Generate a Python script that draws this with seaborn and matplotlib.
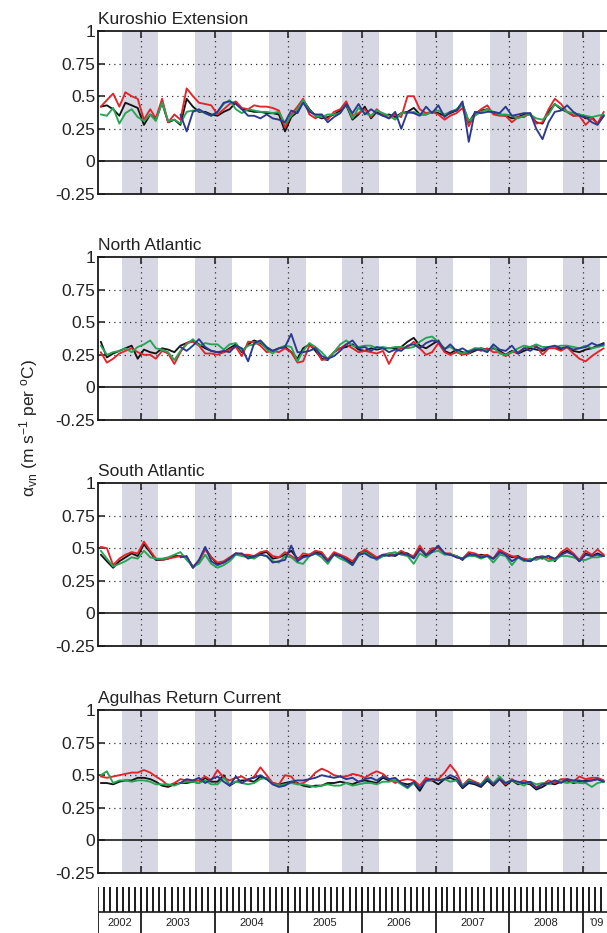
import numpy as np
import pandas as pd
import matplotlib
matplotlib.use("Agg")
import matplotlib.pyplot as plt
import seaborn as sns

# ---------------- data ----------------
regions = ["Kuroshio Extension", "North Atlantic", "South Atlantic", "Agulhas Return Current"]
series_names = ["black", "red", "green", "blue"]
series_colors = ["#141414", "#e3242b", "#27a454", "#2b3990"]
start_main = "2002-06-01"
start_blue = "2003-07-01"
year_labels = ["2002", "2003", "2004", "2005", "2006", "2007", "2008", "'09"]
ytick_labels = ["-0.25", "0", "0.25", "0.5", "0.75", "1"]
ytick_values = [-0.25, 0, 0.25, 0.5, 0.75, 1]

ke_black = [0.42, 0.43, 0.40, 0.35, 0.45, 0.43, 0.41, 0.28, 0.36, 0.32,
            0.45, 0.30, 0.32, 0.28, 0.48, 0.42, 0.38, 0.38, 0.36, 0.35,
            0.38, 0.40, 0.45, 0.40, 0.39, 0.38, 0.38, 0.37, 0.37, 0.36,
            0.23, 0.34, 0.38, 0.47, 0.40, 0.35, 0.33, 0.34, 0.36, 0.39,
            0.43, 0.32, 0.36, 0.42, 0.33, 0.38, 0.35, 0.36, 0.34, 0.37,
            0.38, 0.41, 0.36, 0.36, 0.38, 0.37, 0.35, 0.37, 0.39, 0.44,
            0.30, 0.37, 0.39, 0.40, 0.37, 0.36, 0.35, 0.33, 0.34, 0.36,
            0.36, 0.30, 0.29, 0.38, 0.44, 0.40, 0.38, 0.35, 0.36, 0.33,
            0.34, 0.29, 0.35]
ke_red = [0.42, 0.47, 0.52, 0.42, 0.53, 0.50, 0.48, 0.32, 0.40, 0.33,
          0.48, 0.30, 0.36, 0.32, 0.56, 0.50, 0.45, 0.44, 0.43, 0.36,
          0.40, 0.44, 0.46, 0.41, 0.40, 0.43, 0.42, 0.42, 0.41, 0.39,
          0.26, 0.36, 0.42, 0.48, 0.36, 0.33, 0.36, 0.32, 0.38, 0.40,
          0.46, 0.35, 0.37, 0.40, 0.34, 0.40, 0.36, 0.33, 0.36, 0.34,
          0.50, 0.50, 0.40, 0.37, 0.38, 0.36, 0.32, 0.35, 0.37, 0.41,
          0.27, 0.36, 0.40, 0.43, 0.36, 0.35, 0.35, 0.30, 0.34, 0.34,
          0.37, 0.29, 0.30, 0.40, 0.48, 0.44, 0.38, 0.35, 0.35, 0.28,
          0.33, 0.29, 0.38]
ke_green = [0.36, 0.35, 0.41, 0.29, 0.37, 0.40, 0.34, 0.31, 0.36, 0.31,
            0.45, 0.31, 0.32, 0.29, 0.38, 0.39, 0.39, 0.37, 0.35, 0.38,
            0.44, 0.47, 0.40, 0.37, 0.40, 0.39, 0.38, 0.38, 0.37, 0.38,
            0.29, 0.35, 0.40, 0.47, 0.39, 0.35, 0.34, 0.36, 0.36, 0.37,
            0.44, 0.33, 0.41, 0.37, 0.35, 0.39, 0.37, 0.35, 0.32, 0.37,
            0.37, 0.38, 0.36, 0.36, 0.38, 0.39, 0.36, 0.38, 0.40, 0.44,
            0.31, 0.35, 0.38, 0.40, 0.38, 0.36, 0.36, 0.35, 0.33, 0.35,
            0.36, 0.33, 0.32, 0.36, 0.44, 0.41, 0.38, 0.37, 0.36, 0.35,
            0.34, 0.35, 0.36]
ke_blue = [0.36, 0.23, 0.38, 0.40, 0.37, 0.35, 0.38,
           0.45, 0.46, 0.44, 0.40, 0.35, 0.35, 0.33, 0.36, 0.33, 0.32,
           0.30, 0.39, 0.37, 0.45, 0.38, 0.36, 0.36, 0.30, 0.34, 0.37,
           0.44, 0.37, 0.44, 0.36, 0.40, 0.37, 0.35, 0.33, 0.38, 0.25,
           0.38, 0.37, 0.35, 0.42, 0.37, 0.43, 0.34, 0.38, 0.39, 0.46,
           0.15, 0.38, 0.37, 0.38, 0.38, 0.37, 0.42, 0.35, 0.36, 0.37,
           0.37, 0.25, 0.17, 0.30, 0.38, 0.39, 0.43, 0.38, 0.35, 0.34,
           0.30, 0.28, 0.35]

na_black = [0.35, 0.23, 0.26, 0.28, 0.30, 0.32, 0.22, 0.29, 0.27, 0.26,
            0.30, 0.29, 0.27, 0.32, 0.34, 0.36, 0.33, 0.30, 0.28, 0.27,
            0.27, 0.30, 0.33, 0.27, 0.33, 0.36, 0.34, 0.30, 0.28, 0.30,
            0.31, 0.27, 0.22, 0.30, 0.33, 0.28, 0.22, 0.21, 0.27, 0.30,
            0.31, 0.33, 0.29, 0.28, 0.30, 0.29, 0.30, 0.30, 0.30, 0.31,
            0.35, 0.38, 0.32, 0.30, 0.33, 0.36, 0.28, 0.26, 0.29, 0.27,
            0.26, 0.28, 0.30, 0.29, 0.30, 0.28, 0.25, 0.28, 0.26, 0.28,
            0.30, 0.29, 0.28, 0.30, 0.31, 0.29, 0.31, 0.28, 0.27, 0.29,
            0.30, 0.32, 0.34]
na_red = [0.27, 0.19, 0.22, 0.26, 0.28, 0.30, 0.27, 0.25, 0.25, 0.22,
          0.28, 0.26, 0.18, 0.27, 0.34, 0.35, 0.32, 0.26, 0.26, 0.25,
          0.27, 0.29, 0.31, 0.24, 0.35, 0.35, 0.32, 0.27, 0.28, 0.27,
          0.30, 0.27, 0.19, 0.20, 0.32, 0.30, 0.21, 0.22, 0.27, 0.30,
          0.33, 0.30, 0.27, 0.28, 0.27, 0.26, 0.28, 0.18, 0.27, 0.30,
          0.31, 0.35, 0.30, 0.25, 0.27, 0.34, 0.27, 0.25, 0.27, 0.25,
          0.26, 0.30, 0.28, 0.30, 0.27, 0.27, 0.24, 0.27, 0.27, 0.30,
          0.31, 0.32, 0.25, 0.30, 0.30, 0.28, 0.31, 0.26, 0.22, 0.20,
          0.24, 0.27, 0.30]
na_green = [0.32, 0.25, 0.27, 0.28, 0.30, 0.27, 0.31, 0.33, 0.36, 0.30,
            0.29, 0.27, 0.21, 0.28, 0.33, 0.37, 0.32, 0.34, 0.33, 0.33,
            0.29, 0.33, 0.34, 0.28, 0.32, 0.33, 0.35, 0.29, 0.26, 0.30,
            0.32, 0.31, 0.20, 0.28, 0.34, 0.31, 0.27, 0.22, 0.27, 0.33,
            0.36, 0.32, 0.31, 0.32, 0.32, 0.30, 0.31, 0.30, 0.31, 0.31,
            0.30, 0.31, 0.35, 0.38, 0.39, 0.35, 0.30, 0.31, 0.28, 0.26,
            0.28, 0.30, 0.30, 0.28, 0.31, 0.26, 0.25, 0.27, 0.30, 0.32,
            0.31, 0.33, 0.31, 0.31, 0.31, 0.32, 0.32, 0.31, 0.30, 0.32,
            0.30, 0.31, 0.32]
na_blue = [0.31, 0.28, 0.32, 0.37, 0.31, 0.28, 0.27,
           0.28, 0.27, 0.32, 0.30, 0.20, 0.34, 0.36, 0.31, 0.28, 0.30,
           0.31, 0.41, 0.27, 0.27, 0.28, 0.30, 0.24, 0.22, 0.24, 0.28,
           0.33, 0.36, 0.30, 0.31, 0.28, 0.31, 0.30, 0.27, 0.29, 0.28,
           0.32, 0.33, 0.30, 0.34, 0.36, 0.35, 0.29, 0.33, 0.28, 0.30,
           0.27, 0.29, 0.29, 0.27, 0.33, 0.29, 0.28, 0.32, 0.26, 0.30,
           0.28, 0.31, 0.29, 0.31, 0.32, 0.30, 0.31, 0.29, 0.30, 0.31,
           0.34, 0.32, 0.33]

sa_black = [0.45, 0.40, 0.35, 0.40, 0.43, 0.46, 0.44, 0.53, 0.47, 0.41,
            0.41, 0.42, 0.44, 0.44, 0.43, 0.35, 0.40, 0.50, 0.43, 0.38,
            0.39, 0.42, 0.46, 0.45, 0.44, 0.43, 0.46, 0.47, 0.42, 0.43,
            0.45, 0.48, 0.42, 0.44, 0.45, 0.47, 0.46, 0.40, 0.46, 0.44,
            0.42, 0.38, 0.46, 0.48, 0.45, 0.42, 0.44, 0.45, 0.44, 0.47,
            0.46, 0.43, 0.50, 0.44, 0.48, 0.51, 0.46, 0.45, 0.44, 0.41,
            0.46, 0.44, 0.45, 0.44, 0.42, 0.47, 0.46, 0.43, 0.44, 0.41,
            0.40, 0.43, 0.42, 0.44, 0.40, 0.46, 0.48, 0.45, 0.40, 0.46,
            0.44, 0.46, 0.44]
sa_red = [0.51, 0.50, 0.37, 0.42, 0.45, 0.47, 0.46, 0.55, 0.48, 0.42,
          0.41, 0.42, 0.43, 0.44, 0.43, 0.36, 0.40, 0.49, 0.43, 0.39,
          0.40, 0.43, 0.46, 0.45, 0.45, 0.44, 0.47, 0.48, 0.44, 0.43,
          0.47, 0.44, 0.41, 0.46, 0.45, 0.48, 0.47, 0.41, 0.47, 0.45,
          0.43, 0.40, 0.45, 0.49, 0.46, 0.43, 0.45, 0.46, 0.45, 0.48,
          0.45, 0.44, 0.52, 0.45, 0.50, 0.50, 0.46, 0.46, 0.43, 0.42,
          0.47, 0.46, 0.44, 0.45, 0.42, 0.49, 0.46, 0.44, 0.43, 0.42,
          0.41, 0.43, 0.44, 0.42, 0.41, 0.47, 0.50, 0.46, 0.41, 0.48,
          0.45, 0.49, 0.45]
sa_green = [0.48, 0.42, 0.36, 0.38, 0.40, 0.43, 0.42, 0.48, 0.43, 0.42,
            0.42, 0.43, 0.45, 0.47, 0.41, 0.36, 0.38, 0.45, 0.38, 0.35,
            0.37, 0.40, 0.45, 0.44, 0.43, 0.42, 0.45, 0.44, 0.40, 0.39,
            0.44, 0.43, 0.39, 0.38, 0.44, 0.46, 0.43, 0.38, 0.45, 0.42,
            0.40, 0.37, 0.44, 0.47, 0.44, 0.41, 0.44, 0.46, 0.47, 0.45,
            0.44, 0.38, 0.46, 0.43, 0.47, 0.48, 0.45, 0.45, 0.44, 0.42,
            0.44, 0.44, 0.42, 0.44, 0.39, 0.45, 0.44, 0.37, 0.43, 0.40,
            0.42, 0.41, 0.43, 0.40, 0.41, 0.44, 0.44, 0.43, 0.41, 0.41,
            0.43, 0.43, 0.44]
sa_blue = [0.43, 0.44, 0.35, 0.41, 0.51, 0.40, 0.37,
           0.39, 0.42, 0.46, 0.46, 0.42, 0.44, 0.45, 0.44, 0.39, 0.40,
           0.41, 0.52, 0.40, 0.43, 0.44, 0.46, 0.45, 0.40, 0.45, 0.44,
           0.41, 0.37, 0.45, 0.46, 0.43, 0.42, 0.45, 0.44, 0.45, 0.46,
           0.45, 0.42, 0.49, 0.45, 0.47, 0.52, 0.46, 0.45, 0.43, 0.42,
           0.45, 0.45, 0.43, 0.44, 0.42, 0.47, 0.45, 0.40, 0.43, 0.41,
           0.40, 0.43, 0.43, 0.44, 0.42, 0.45, 0.47, 0.45, 0.40, 0.45,
           0.44, 0.45, 0.44]

ar_black = [0.44, 0.44, 0.43, 0.45, 0.46, 0.46, 0.48, 0.48, 0.47, 0.45,
            0.42, 0.41, 0.43, 0.44, 0.44, 0.45, 0.44, 0.48, 0.45, 0.45,
            0.50, 0.42, 0.45, 0.46, 0.46, 0.45, 0.49, 0.47, 0.44, 0.43,
            0.44, 0.45, 0.44, 0.42, 0.41, 0.42, 0.42, 0.44, 0.44, 0.45,
            0.44, 0.43, 0.45, 0.46, 0.45, 0.44, 0.48, 0.46, 0.46, 0.44,
            0.43, 0.44, 0.38, 0.46, 0.46, 0.43, 0.47, 0.48, 0.46, 0.40,
            0.44, 0.43, 0.41, 0.46, 0.42, 0.47, 0.42, 0.46, 0.43, 0.44,
            0.43, 0.39, 0.41, 0.44, 0.43, 0.45, 0.46, 0.44, 0.45, 0.46,
            0.46, 0.47, 0.45]
ar_red = [0.49, 0.48, 0.49, 0.50, 0.51, 0.52, 0.52, 0.54, 0.52, 0.49,
          0.46, 0.42, 0.44, 0.47, 0.46, 0.46, 0.46, 0.49, 0.46, 0.54,
          0.48, 0.46, 0.48, 0.49, 0.46, 0.49, 0.56, 0.50, 0.44, 0.43,
          0.50, 0.49, 0.43, 0.44, 0.47, 0.52, 0.55, 0.53, 0.50, 0.49,
          0.49, 0.51, 0.50, 0.48, 0.51, 0.53, 0.51, 0.47, 0.44, 0.46,
          0.47, 0.46, 0.42, 0.48, 0.46, 0.47, 0.52, 0.58, 0.52, 0.42,
          0.47, 0.45, 0.43, 0.49, 0.43, 0.48, 0.43, 0.47, 0.44, 0.46,
          0.44, 0.41, 0.43, 0.46, 0.44, 0.47, 0.47, 0.45, 0.49, 0.47,
          0.48, 0.48, 0.46]
ar_green = [0.50, 0.53, 0.44, 0.46, 0.46, 0.45, 0.46, 0.46, 0.45, 0.43,
            0.43, 0.43, 0.42, 0.44, 0.45, 0.45, 0.44, 0.46, 0.43, 0.43,
            0.48, 0.43, 0.45, 0.44, 0.43, 0.44, 0.47, 0.48, 0.43, 0.42,
            0.43, 0.44, 0.43, 0.43, 0.42, 0.41, 0.42, 0.43, 0.42, 0.42,
            0.44, 0.42, 0.43, 0.44, 0.44, 0.43, 0.45, 0.45, 0.46, 0.43,
            0.40, 0.44, 0.41, 0.45, 0.47, 0.46, 0.47, 0.45, 0.46, 0.42,
            0.46, 0.44, 0.43, 0.48, 0.44, 0.49, 0.44, 0.46, 0.44, 0.42,
            0.45, 0.43, 0.44, 0.43, 0.46, 0.45, 0.44, 0.45, 0.44, 0.44,
            0.41, 0.44, 0.45]
ar_blue = [0.44, 0.47, 0.46, 0.48, 0.44, 0.47, 0.49,
           0.45, 0.42, 0.49, 0.44, 0.47, 0.48, 0.50, 0.47, 0.43, 0.41,
           0.42, 0.45, 0.46, 0.46, 0.47, 0.48, 0.50, 0.49, 0.48, 0.49,
           0.47, 0.48, 0.45, 0.47, 0.48, 0.46, 0.49, 0.47, 0.48, 0.44,
           0.41, 0.45, 0.40, 0.46, 0.47, 0.46, 0.47, 0.50, 0.48, 0.41,
           0.45, 0.44, 0.42, 0.47, 0.43, 0.47, 0.44, 0.46, 0.45, 0.44,
           0.45, 0.40, 0.43, 0.44, 0.46, 0.44, 0.47, 0.46, 0.46, 0.45,
           0.46, 0.47, 0.45]

panel_data = [
    [ke_black, ke_red, ke_green, ke_blue],
    [na_black, na_red, na_green, na_blue],
    [sa_black, sa_red, sa_green, sa_blue],
    [ar_black, ar_red, ar_green, ar_blue],
]

# ---------------- style ----------------
sns.set_theme(style="white")
plt.rcParams["font.family"] = ["Liberation Sans", "DejaVu Sans"]
plt.rcParams["mathtext.default"] = "regular"

W, H = 607, 933
fig = plt.figure(figsize=(W / 100, H / 100), dpi=100)

xmin = pd.Timestamp("2002-06-01")
xmax = pd.Timestamp("2009-05-01")
shade = "#d6d7e3"
left = 98 / W
width = 1.0 - left
panel_tops = [31, 257, 483, 710]
panel_h = 163

def month_dates(start, n):
    return pd.date_range(start, periods=n, freq="MS") + pd.Timedelta(days=14)

for k, (title, series) in enumerate(zip(regions, panel_data)):
    top = panel_tops[k]
    ax = fig.add_axes([left, 1 - (top + panel_h) / H, width, panel_h / H])
    frames = []
    for name, vals in zip(series_names, series):
        st = start_blue if name == "blue" else start_main
        frames.append(pd.DataFrame({"date": month_dates(st, len(vals)),
                                    "value": vals, "series": name}))
    df = pd.concat(frames, ignore_index=True)
    # shading (Oct-Mar)
    for yr in range(2003, 2010):
        ax.axvspan(pd.Timestamp(f"{yr-1}-09-26"), pd.Timestamp(f"{yr}-03-28"),
                   color=shade, lw=0, zorder=0)
    # grid
    for yv in [0.25, 0.5, 0.75]:
        ax.axhline(yv, color="#333333", lw=0.9, ls=(0, (1, 3.2)), zorder=1)
    for yr in range(2003, 2010):
        ax.axvline(pd.Timestamp(f"{yr}-01-01"), color="#333333", lw=0.9,
                   ls=(0, (1, 3.2)), zorder=1)
    ax.axhline(0, color="#1a1a1a", lw=1.2, zorder=1)
    sns.lineplot(data=df, x="date", y="value", hue="series",
                 hue_order=series_names, palette=series_colors,
                 lw=1.35, legend=False, ax=ax, zorder=3)
    ax.set_xlim(xmin, xmax)
    ax.set_ylim(-0.25, 1)
    ax.set_yticks(ytick_values)
    ax.set_yticklabels(ytick_labels)
    ax.set_xticks([pd.Timestamp(f"{yr}-01-01") for yr in range(2003, 2010)])
    ax.set_xticklabels([])
    ax.set_xlabel("")
    ax.set_ylabel("")
    ax.tick_params(axis="x", direction="in", top=True, bottom=True, length=5,
                   width=1.1, color="#1a1a1a", labelbottom=False)
    ax.tick_params(axis="y", direction="in", left=True, right=False, length=5,
                   width=1.1, color="#1a1a1a", labelsize=12.5, pad=2,
                   labelcolor="#222222")
    for s in ["left", "top", "bottom"]:
        ax.spines[s].set_color("#1a1a1a")
        ax.spines[s].set_linewidth(1.3)
    ax.spines["right"].set_visible(False)
    ax.set_title(title, loc="left", fontsize=12.5, pad=5, color="#222222")

fig.text(0.047, 1 - 428 / H, r"α$_{vn}$ (m s$^{-1}$ per $^{o}$C)", rotation=90,
         ha="center", va="center", fontsize=12.5, color="#222222")

# ---------------- timeline strip ----------------
tax = fig.add_axes([left, 0, width, 46 / H])
tax.set_xlim(xmin, xmax)
tax.set_ylim(0, 1)
tax.axis("off")
mid = 21 / 46
months = pd.date_range("2002-07-01", "2009-04-01", freq="MS")
tax.vlines(months, mid, 1.0, color="#1a1a1a", lw=1.4)
years = [pd.Timestamp(f"{yr}-01-01") for yr in range(2003, 2010)]
tax.vlines(years + [xmin], 0, 1.0, color="#1a1a1a", lw=1.3)
tax.hlines(mid, xmin, xmax, color="#1a1a1a", lw=1.2)
edges = [xmin] + years + [xmax]
for lab, a, b in zip(year_labels, edges[:-1], edges[1:]):
    c = a + (b - a) / 2
    if lab == "'09":
        c = pd.Timestamp("2009-03-10")
    tax.text(c, mid / 2, lab, ha="center", va="center", fontsize=8,
             color="#222222")

fig.savefig("out.png", dpi=100)
